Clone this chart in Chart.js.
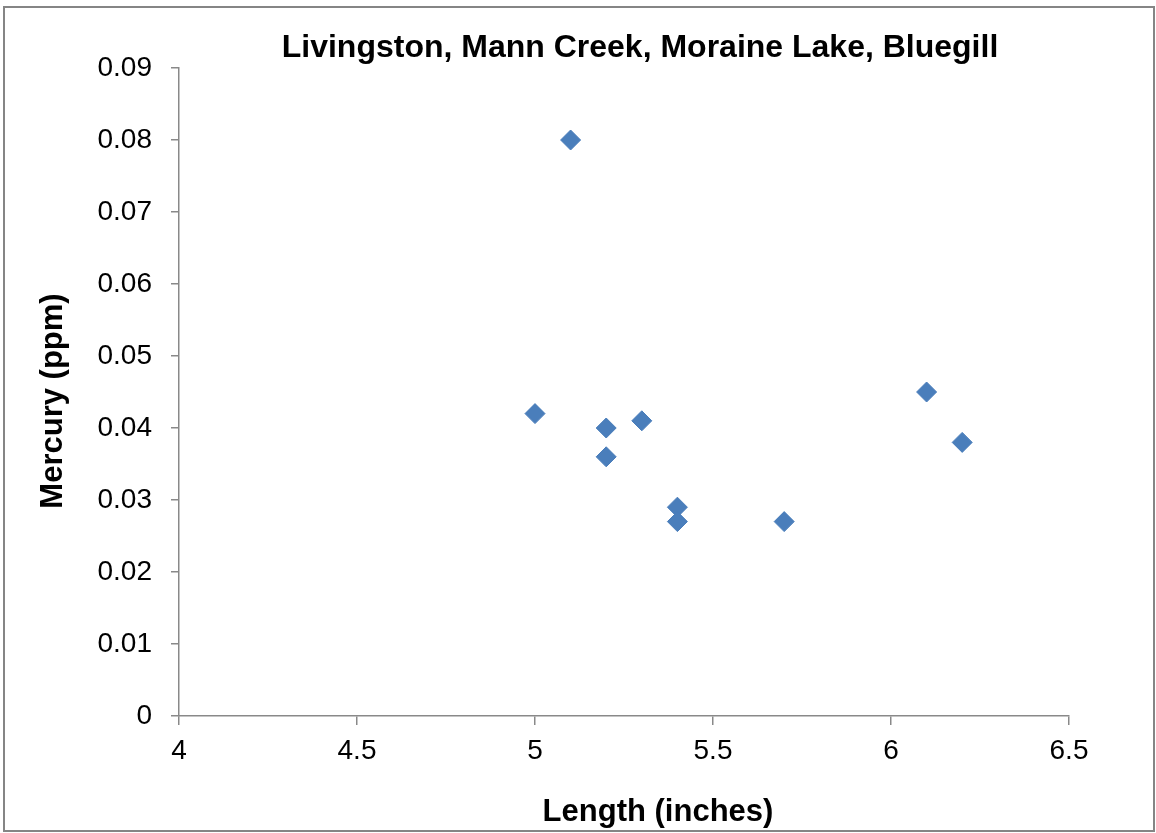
<!DOCTYPE html>
<html>
<head>
<meta charset="utf-8">
<script src="https://cdn.jsdelivr.net/npm/chart.js@4/dist/chart.umd.min.js"></script>
<style>
  html, body { margin: 0; padding: 0; background: #fff; }
  canvas { display: block; }
</style>
</head>
<body>
<canvas id="chart" width="1156" height="833"></canvas>
<script>
/* Livingston, Mann Creek, Moraine Lake, Bluegill - length vs mercury */
var lengths = [5.0, 5.1, 5.2, 5.2, 5.3, 5.4, 5.4, 5.7, 6.1, 6.2];
var mercury = [0.042, 0.080, 0.040, 0.036, 0.041, 0.029, 0.027, 0.027, 0.045, 0.038];

var titleText = 'Livingston, Mann Creek, Moraine Lake, Bluegill';
var xTitle    = 'Length (inches)';
var yTitle    = 'Mercury (ppm)';

var FONT = '"Liberation Sans", Arial, Helvetica, sans-serif';
var AXIS = '#898989';

var points = lengths.map(function(x, i) { return {x: x, y: mercury[i]}; });

// plain number labels: 4, 4.5, 5 ... (no trailing .0)
var plain = function(v) { return String(Math.round(v * 1000) / 1000); };

// frame + titles (Excel style, not centred on the canvas)
var decor = {
  id: 'decor',
  beforeDraw: function(c) {
    var ctx = c.ctx;
    ctx.save();
    ctx.fillStyle = '#fff';
    ctx.fillRect(0, 0, c.width, c.height);
    ctx.strokeStyle = '#858585';
    ctx.lineWidth = 2;
    ctx.strokeRect(4, 7, c.width - 6, c.height - 9);
    ctx.restore();
  },
  afterDraw: function(c) {
    var ctx = c.ctx, a = c.chartArea;
    var cx = (a.left + a.right) / 2;
    ctx.save();
    ctx.fillStyle = '#000';
    ctx.textAlign = 'center';
    ctx.textBaseline = 'alphabetic';
    ctx.font = 'bold 32px ' + FONT;
    ctx.fillText(titleText, cx + 16, a.top - 11);

    ctx.font = 'bold 31px ' + FONT;
    ctx.textBaseline = 'middle';
    ctx.fillText(xTitle, cx + 34, a.bottom + 96);

    ctx.translate(53, (a.top + a.bottom) / 2 + 9);
    ctx.rotate(-Math.PI / 2);
    ctx.fillText(yTitle, 0, 0);
    ctx.restore();
  }
};

new Chart(document.getElementById('chart'), {
  type: 'scatter',
  data: {
    datasets: [{
      label: 'Bluegill',
      data: points,
      pointStyle: 'rectRot',
      pointRadius: 10,
      pointHoverRadius: 10,
      backgroundColor: '#4a7ebb',
      borderColor: '#4a7ebb',
      borderWidth: 1
    }]
  },
  plugins: [decor],
  options: {
    responsive: false,
    animation: false,
    devicePixelRatio: 1,
    layout: { padding: { left: 0, top: 68, right: 87, bottom: 0 } },
    plugins: {
      legend: { display: false },
      title: { display: false },
      tooltip: { enabled: false }
    },
    scales: {
      x: {
        type: 'linear',
        min: 4, max: 6.5,
        afterFit: function(s) { s.height = 117; },
        border: { display: true, color: AXIS, width: 1.5 },
        grid: { drawOnChartArea: false, drawTicks: true, tickLength: 9, color: AXIS, lineWidth: 1.5 },
        ticks: { stepSize: 0.5, color: '#000', padding: 9, font: { family: FONT, size: 28 }, callback: plain }
      },
      y: {
        type: 'linear',
        min: 0, max: 0.09,
        afterFit: function(s) { s.width = 179; },
        border: { display: true, color: AXIS, width: 1.5 },
        grid: { drawOnChartArea: false, drawTicks: true, tickLength: 8, color: AXIS, lineWidth: 1.5 },
        ticks: { stepSize: 0.01, color: '#000', padding: 19, font: { family: FONT, size: 28 }, callback: plain }
      }
    }
  }
});
</script>
</body>
</html>
